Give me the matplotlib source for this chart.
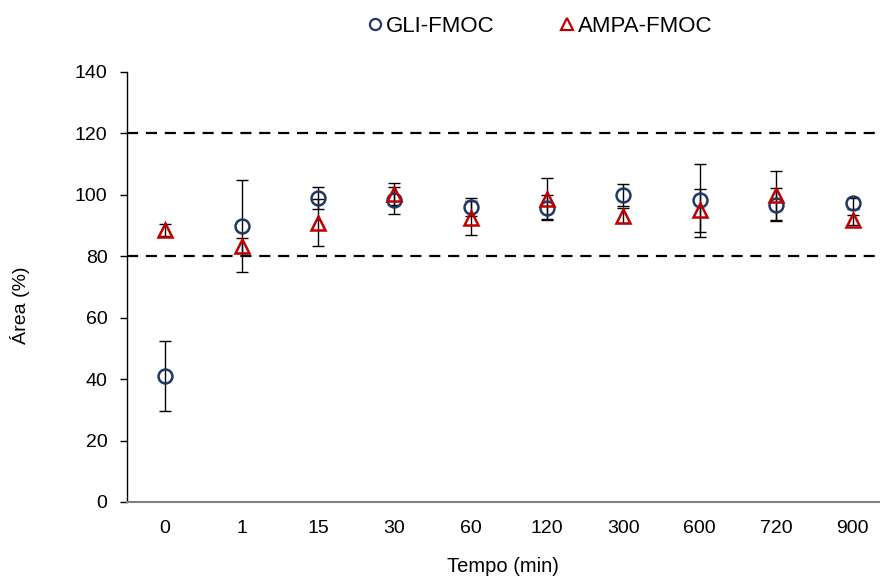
import matplotlib
matplotlib.use("Agg")
import matplotlib.pyplot as plt
from matplotlib.lines import Line2D
import numpy as np

plt.rcParams['font.family'] = ['Liberation Sans', 'DejaVu Sans']

categories = ['0', '1', '15', '30', '60', '120', '300', '600', '720', '900']
gli_values = [41.0, 90.0, 99.0, 98.2, 96.0, 95.8, 100.0, 98.2, 96.8, 97.2]
gli_errors = [11.5, 15.0, 3.5, 4.5, 3.0, 4.0, 3.5, 12.0, 5.3, 1.8]
ampa_values = [88.5, 83.5, 91.0, 100.2, 92.5, 98.8, 93.2, 95.0, 99.8, 91.8]
ampa_errors = [2.0, 2.5, 7.8, 3.5, 5.5, 6.8, 2.5, 7.0, 8.0, 1.5]
limit_lines = [80, 120]
yticks = [0, 20, 40, 60, 80, 100, 120, 140]

blue = '#1F3864'
red = '#C00000'

fig = plt.figure(figsize=(8.8, 5.8), dpi=100)
ax = fig.add_axes([127/880, 1 - 502/580, 1 - 127/880, (502 - 72)/580])

x = np.arange(len(categories))

for yv in limit_lines:
    ax.axhline(yv, color='black', lw=1.6, ls=(0, (5, 3.5)), zorder=1)

ax.errorbar(x, gli_values, yerr=gli_errors, fmt='none', ecolor='black',
            elinewidth=1, capsize=4, capthick=1, zorder=2)
ax.errorbar(x, ampa_values, yerr=ampa_errors, fmt='none', ecolor='black',
            elinewidth=1, capsize=4, capthick=1, zorder=2)
ax.plot(x, gli_values, ls='none', marker='o', ms=10, mfc='none', mec=blue,
        mew=1.8, zorder=3)
ax.plot(x, ampa_values, ls='none', marker='^', ms=10, mfc='none', mec=red,
        mew=1.8, zorder=4)

ax.set_xlim(-0.5, 9.36)
ax.set_ylim(0, 140)
ax.set_yticks(yticks)
ax.set_xticks(x)
ax.set_xticklabels(categories)
ax.tick_params(axis='x', length=0, pad=13, labelsize=14)
ax.tick_params(axis='y', direction='out', length=5, width=1, labelsize=14, pad=9)

for s in ['top', 'right']:
    ax.spines[s].set_visible(False)
ax.spines['left'].set_color('black')
ax.spines['left'].set_linewidth(1)
ax.spines['bottom'].set_color('#808080')
ax.spines['bottom'].set_linewidth(1.5)

fig.text(20/880, 1 - 305/580, 'Área (%)', rotation=90, ha='center', va='center', fontsize=14)
fig.text(503/880, 1 - 566/580, 'Tempo (min)', ha='center', va='center', fontsize=14.5)

handles = [
    Line2D([], [], ls='none', marker='o', ms=8, mfc='none', mec=blue, mew=1.6),
    Line2D([], [], ls='none', marker='^', ms=8, mfc='none', mec=red, mew=1.6),
]
fig.legend(handles, ['GLI-FMOC', 'AMPA-FMOC'], loc='center', ncol=2,
           bbox_to_anchor=(541/880, 1 - 26/580), frameon=False, fontsize=16,
           handlelength=0.5, handletextpad=0.25, columnspacing=3.0)

fig.savefig('out.png', dpi=100)
